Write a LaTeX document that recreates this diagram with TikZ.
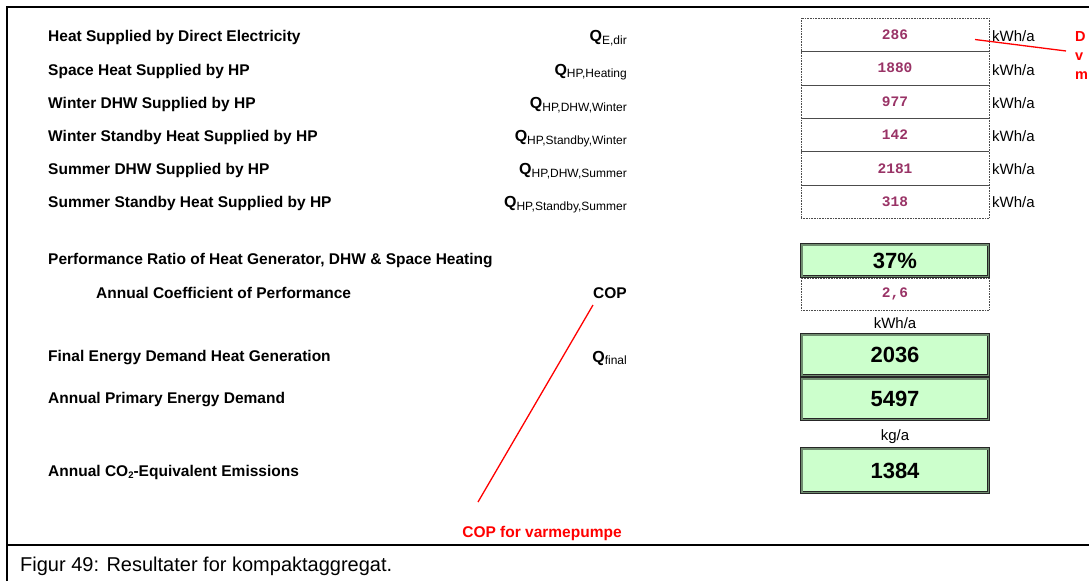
\documentclass[tikz,border=0pt]{standalone}
\usepackage{fontspec}
\setmainfont{Liberation Sans}
\setmonofont{Liberation Mono}
\definecolor{valmaroon}{HTML}{993366}
\definecolor{cellgreen}{HTML}{CCFFCC}
\definecolor{bandgreen}{HTML}{6F8C6F}
\definecolor{annred}{HTML}{FF0000}
\newcommand{\Qsub}[1]{\textbf{\fontsize{16}{18}\selectfont Q}\raisebox{-2.5pt}{\fontsize{12}{14}\selectfont #1}}
\tikzset{
  lbl/.style={anchor=base west, inner sep=0pt, font=\fontsize{15.5}{18}\selectfont\bfseries},
  sym/.style={anchor=base east, inner sep=0pt, font=\fontsize{15}{18}\selectfont},
  unit/.style={inner sep=0pt, font=\fontsize{15}{18}\selectfont},
  dotbox/.style={draw=black!70, densely dotted, line width=0.6pt, minimum width=188pt,
    minimum height=33.4pt, inner sep=0pt, text=valmaroon,
    font=\fontsize{14.5}{16}\selectfont\ttfamily\bfseries},
  greenbox/.style={draw=black!85, line width=0.8pt, double=bandgreen, double distance=1.6pt,
    fill=cellgreen, minimum width=186.6pt, inner sep=0pt,
    font=\fontsize{22}{26}\selectfont\bfseries},
  annot/.style={inner sep=0pt, text=annred, font=\fontsize{14.5}{18}\selectfont\bfseries},
  annline/.style={draw=annred, line width=1.3pt}
}
\begin{document}
\begin{tikzpicture}[x=1pt,y=-1pt]
\useasboundingbox (0,0) rectangle (1089,581);
\clip (0,0) rectangle (1089,581);
% frame
\draw[line width=2pt] (7,581) -- (7,7) -- (1089,7);
\draw[line width=2pt] (7,545) -- (1089,545);
% labels
\node[lbl] (l1) at (48,41.5) {Heat Supplied by Direct Electricity};
\node[lbl] (l2) at (48,75) {Space Heat Supplied by HP};
\node[lbl] (l3) at (48,108.5) {Winter DHW Supplied by HP};
\node[lbl] (l4) at (48,141.5) {Winter Standby Heat Supplied by HP};
\node[lbl] (l5) at (48,174.5) {Summer DHW Supplied by HP};
\node[lbl] (l6) at (48,207.5) {Summer Standby Heat Supplied by HP};
\node[lbl] (l7) at (48,264.5) {Performance Ratio of Heat Generator, DHW \& Space Heating};
\node[lbl] (l8) at (96,298.5) {Annual Coefficient of Performance};
\node[lbl] (l9) at (48,361.5) {Final Energy Demand Heat Generation};
\node[lbl] (l10) at (48,403.5) {Annual Primary Energy Demand};
\node[lbl] (l11) at (48,476.5) {Annual CO\raisebox{-2pt}{\fontsize{9.5}{11}\selectfont 2}-Equivalent Emissions};
% symbols
\node[sym] (s1) at (627,41.5) {\Qsub{E,dir}};
\node[sym] (s2) at (627,75) {\Qsub{HP,Heating}};
\node[sym] (s3) at (627,108.5) {\Qsub{HP,DHW,Winter}};
\node[sym] (s4) at (627,141.5) {\Qsub{HP,Standby,Winter}};
\node[sym] (s5) at (627,174.5) {\Qsub{HP,DHW,Summer}};
\node[sym] (s6) at (627,207.5) {\Qsub{HP,Standby,Summer}};
\node[sym, font=\fontsize{15.5}{18}\selectfont\bfseries] (s8) at (627,298.5) {COP};
\node[sym] (s9) at (627,362) {\Qsub{final}};
% value cells
\node[dotbox] (v1) at (895,34.7) {286};
\node[dotbox] (v2) at (895,68.1) {1880};
\node[dotbox] (v3) at (895,101.5) {977};
\node[dotbox] (v4) at (895,134.9) {142};
\node[dotbox] (v5) at (895,168.3) {2181};
\node[dotbox] (v6) at (895,201.7) {318};
\node[dotbox, minimum height=32pt] (v8) at (895,294) {2,6};
% units
\node[unit, anchor=base west] (u1) at (992,41.5) {kWh/a};
\node[unit, anchor=base west] (u2) at (992,75) {kWh/a};
\node[unit, anchor=base west] (u3) at (992,108.5) {kWh/a};
\node[unit, anchor=base west] (u4) at (992,141.5) {kWh/a};
\node[unit, anchor=base west] (u5) at (992,174.5) {kWh/a};
\node[unit, anchor=base west] (u6) at (992,207.5) {kWh/a};
\node[unit, anchor=base] (u9) at (895,328.5) {kWh/a};
\node[unit, anchor=base] (u11) at (895,440.5) {kg/a};
% green result cells
\node[greenbox, minimum height=31.6pt] (v7) at (895,260.5) {37\%};
\node[greenbox, minimum height=40.6pt] (v9) at (895,355) {2036};
\node[greenbox, minimum height=40.6pt] (v10) at (895,399) {5497};
\node[greenbox, minimum height=43.6pt] (v11) at (895,470.5) {1384};
% red annotations
\node[annot, anchor=base west] (a1) at (1075,41.5) {D};
\node[annot, anchor=base west] (a2) at (1075,60.5) {v};
\node[annot, anchor=base west] (a3) at (1075,79.5) {m};
\coordinate (a1end) at (1066,51);
\coordinate (v1pt) at (975,39.5);
\draw[annline] (v1pt) -- (a1end);
\node[annot, anchor=base, font=\fontsize{15.5}{18}\selectfont\bfseries] (cop) at (542,537.5) {COP for varmepumpe};
\coordinate (copTop) at (593,305);
\coordinate (copBot) at (478,502);
\draw[annline] (copTop) -- (copBot);
% caption
\node[anchor=base west, inner sep=0pt, font=\fontsize{20}{24}\selectfont] (cap) at (20,571) {Figur 49: Resultater for kompaktaggregat.};
\end{tikzpicture}
\end{document}
